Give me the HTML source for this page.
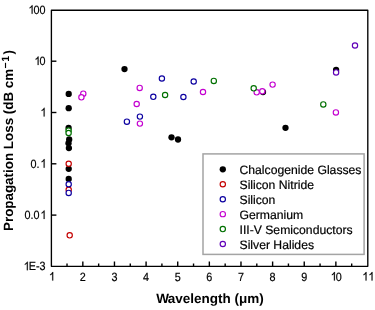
<!DOCTYPE html>
<html><head><meta charset="utf-8"><style>
html,body{margin:0;padding:0;background:#fff;width:375px;height:310px;overflow:hidden}
svg{display:block;will-change:transform;text-rendering:geometricPrecision}
.tl{font-family:"Liberation Sans",sans-serif;font-size:12px;fill:#000;stroke:#000;stroke-width:0.2px}
.lg{font-family:"Liberation Sans",sans-serif;font-size:12.2px;fill:#000;stroke:#000;stroke-width:0.2px}
.ti{font-family:"Liberation Sans",sans-serif;font-size:13px;font-weight:bold;fill:#000}
</style></head><body>
<svg width="375" height="310" viewBox="0 0 375 310">
<rect x="51.4" y="10.2" width="316.40000000000003" height="256.1" fill="none" stroke="#000" stroke-width="1.35" stroke-linejoin="round"/>
<g transform="translate(48.20,280.60) scale(0.9,1)"><path transform="translate(0.00,0) scale(0.012,-0.012)" d="M463 0H375V560L320 515L250 473L188 444V529L278 581L350 645L400 716H463Z" fill="#000" stroke="#000" stroke-width="16"/></g>
<line x1="82.83" y1="266.3" x2="82.83" y2="261.5" stroke="#000" stroke-width="1.4"/>
<g transform="translate(79.83,280.60) scale(0.9,1)"><text x="0.00" y="0" class="tl">2</text></g>
<line x1="114.46" y1="266.3" x2="114.46" y2="261.5" stroke="#000" stroke-width="1.4"/>
<g transform="translate(111.46,280.60) scale(0.9,1)"><text x="0.00" y="0" class="tl">3</text></g>
<line x1="146.09" y1="266.3" x2="146.09" y2="261.5" stroke="#000" stroke-width="1.4"/>
<g transform="translate(143.09,280.60) scale(0.9,1)"><text x="0.00" y="0" class="tl">4</text></g>
<line x1="177.72" y1="266.3" x2="177.72" y2="261.5" stroke="#000" stroke-width="1.4"/>
<g transform="translate(174.72,280.60) scale(0.9,1)"><text x="0.00" y="0" class="tl">5</text></g>
<line x1="209.35" y1="266.3" x2="209.35" y2="261.5" stroke="#000" stroke-width="1.4"/>
<g transform="translate(206.35,280.60) scale(0.9,1)"><text x="0.00" y="0" class="tl">6</text></g>
<line x1="240.98" y1="266.3" x2="240.98" y2="261.5" stroke="#000" stroke-width="1.4"/>
<g transform="translate(237.98,280.60) scale(0.9,1)"><text x="0.00" y="0" class="tl">7</text></g>
<line x1="272.61" y1="266.3" x2="272.61" y2="261.5" stroke="#000" stroke-width="1.4"/>
<g transform="translate(269.61,280.60) scale(0.9,1)"><text x="0.00" y="0" class="tl">8</text></g>
<line x1="304.24" y1="266.3" x2="304.24" y2="261.5" stroke="#000" stroke-width="1.4"/>
<g transform="translate(301.24,280.60) scale(0.9,1)"><text x="0.00" y="0" class="tl">9</text></g>
<line x1="335.87" y1="266.3" x2="335.87" y2="261.5" stroke="#000" stroke-width="1.4"/>
<g transform="translate(329.87,280.60) scale(0.9,1)"><path transform="translate(0.00,0) scale(0.012,-0.012)" d="M463 0H375V560L320 515L250 473L188 444V529L278 581L350 645L400 716H463Z" fill="#000" stroke="#000" stroke-width="16"/><text x="6.67" y="0" class="tl">0</text></g>
<g transform="translate(361.50,280.60) scale(0.9,1)"><path transform="translate(0.00,0) scale(0.012,-0.012)" d="M463 0H375V560L320 515L250 473L188 444V529L278 581L350 645L400 716H463Z" fill="#000" stroke="#000" stroke-width="16"/><path transform="translate(6.67,0) scale(0.012,-0.012)" d="M463 0H375V560L320 515L250 473L188 444V529L278 581L350 645L400 716H463Z" fill="#000" stroke="#000" stroke-width="16"/></g>
<line x1="67.02" y1="266.3" x2="67.02" y2="263.5" stroke="#000" stroke-width="1.4"/>
<line x1="98.65" y1="266.3" x2="98.65" y2="263.5" stroke="#000" stroke-width="1.4"/>
<line x1="130.28" y1="266.3" x2="130.28" y2="263.5" stroke="#000" stroke-width="1.4"/>
<line x1="161.91" y1="266.3" x2="161.91" y2="263.5" stroke="#000" stroke-width="1.4"/>
<line x1="193.54" y1="266.3" x2="193.54" y2="263.5" stroke="#000" stroke-width="1.4"/>
<line x1="225.17" y1="266.3" x2="225.17" y2="263.5" stroke="#000" stroke-width="1.4"/>
<line x1="256.80" y1="266.3" x2="256.80" y2="263.5" stroke="#000" stroke-width="1.4"/>
<line x1="288.43" y1="266.3" x2="288.43" y2="263.5" stroke="#000" stroke-width="1.4"/>
<line x1="320.06" y1="266.3" x2="320.06" y2="263.5" stroke="#000" stroke-width="1.4"/>
<line x1="351.69" y1="266.3" x2="351.69" y2="263.5" stroke="#000" stroke-width="1.4"/>
<g transform="translate(27.59,13.80) scale(0.9,1)"><path transform="translate(0.00,0) scale(0.012,-0.012)" d="M463 0H375V560L320 515L250 473L188 444V529L278 581L350 645L400 716H463Z" fill="#000" stroke="#000" stroke-width="16"/><text x="6.67" y="0" class="tl">00</text></g>
<line x1="51.4" y1="61.20" x2="56.4" y2="61.20" stroke="#000" stroke-width="1.4"/>
<g transform="translate(33.59,65.10) scale(0.9,1)"><path transform="translate(0.00,0) scale(0.012,-0.012)" d="M463 0H375V560L320 515L250 473L188 444V529L278 581L350 645L400 716H463Z" fill="#000" stroke="#000" stroke-width="16"/><text x="6.67" y="0" class="tl">0</text></g>
<line x1="51.4" y1="112.50" x2="56.4" y2="112.50" stroke="#000" stroke-width="1.4"/>
<g transform="translate(39.60,116.40) scale(0.9,1)"><path transform="translate(0.00,0) scale(0.012,-0.012)" d="M463 0H375V560L320 515L250 473L188 444V529L278 581L350 645L400 716H463Z" fill="#000" stroke="#000" stroke-width="16"/></g>
<line x1="51.4" y1="163.80" x2="56.4" y2="163.80" stroke="#000" stroke-width="1.4"/>
<g transform="translate(30.59,167.70) scale(0.9,1)"><text x="0.00" y="0" class="tl">0.</text><path transform="translate(10.01,0) scale(0.012,-0.012)" d="M463 0H375V560L320 515L250 473L188 444V529L278 581L350 645L400 716H463Z" fill="#000" stroke="#000" stroke-width="16"/></g>
<line x1="51.4" y1="215.10" x2="56.4" y2="215.10" stroke="#000" stroke-width="1.4"/>
<g transform="translate(24.58,219.00) scale(0.9,1)"><text x="0.00" y="0" class="tl">0.0</text><path transform="translate(16.68,0) scale(0.012,-0.012)" d="M463 0H375V560L320 515L250 473L188 444V529L278 581L350 645L400 716H463Z" fill="#000" stroke="#000" stroke-width="16"/></g>
<g transform="translate(22.79,270.30) scale(0.9,1)"><path transform="translate(0.00,0) scale(0.012,-0.012)" d="M463 0H375V560L320 515L250 473L188 444V529L278 581L350 645L400 716H463Z" fill="#000" stroke="#000" stroke-width="16"/><text x="6.67" y="0" class="tl">E-3</text></g>
<rect x="203.0" y="153.9" width="161.1" height="100.5" fill="#fff" stroke="#a4a4a4" stroke-width="1.5"/>
<circle cx="222.8" cy="169.35" r="3.15" fill="#000"/>
<text x="239.5" y="173.95" class="lg">Chalcogenide Glasses</text>
<circle cx="222.8" cy="184.28" r="2.65" fill="#fff" stroke="#c40000" stroke-width="1.15"/>
<text x="239.5" y="188.88" class="lg">Silicon Nitride</text>
<circle cx="222.8" cy="199.21" r="2.65" fill="#fff" stroke="#0c00a0" stroke-width="1.15"/>
<text x="239.5" y="203.81" class="lg">Silicon</text>
<circle cx="222.8" cy="214.14" r="2.65" fill="#fff" stroke="#c400d0" stroke-width="1.15"/>
<text x="239.5" y="218.74" class="lg">Germanium</text>
<circle cx="222.8" cy="229.07" r="2.65" fill="#fff" stroke="#007000" stroke-width="1.15"/>
<text x="239.5" y="233.67" class="lg">III-V Semiconductors</text>
<circle cx="222.8" cy="244.00" r="2.65" fill="#fff" stroke="#6000b8" stroke-width="1.15"/>
<text x="239.5" y="248.60" class="lg">Silver Halides</text>
<text x="156.3" y="303.3" class="ti" style="font-size:13.5px">W<tspan dx="-0.9">avelength (μm)</tspan></text>
<text transform="translate(13.3,140.5) rotate(-90)" text-anchor="middle" class="ti" style="font-size:13.4px">Propagation Loss (dB cm<tspan style="font-size:10.5px" dy="-4.3" dx="0.3">−</tspan><tspan style="font-size:10.5px" dx="0.7">1</tspan><tspan dy="4.3" dx="1.4">)</tspan></text>
<circle cx="68.7" cy="93.9" r="3.15" fill="#000"/>
<circle cx="68.7" cy="108.2" r="3.15" fill="#000"/>
<circle cx="68.6" cy="128.0" r="3.15" fill="#000"/>
<circle cx="69.2" cy="139.4" r="3.15" fill="#000"/>
<circle cx="68.5" cy="143.2" r="3.15" fill="#000"/>
<circle cx="68.9" cy="148.1" r="3.15" fill="#000"/>
<circle cx="68.7" cy="168.8" r="3.15" fill="#000"/>
<circle cx="68.7" cy="178.9" r="3.15" fill="#000"/>
<circle cx="124.5" cy="69.1" r="3.15" fill="#000"/>
<circle cx="171.5" cy="137.3" r="3.15" fill="#000"/>
<circle cx="178.0" cy="139.5" r="3.15" fill="#000"/>
<circle cx="263.0" cy="92.1" r="3.15" fill="#000"/>
<circle cx="285.5" cy="127.8" r="3.15" fill="#000"/>
<circle cx="336.1" cy="70.0" r="3.15" fill="#000"/>
<circle cx="68.7" cy="163.7" r="2.65" fill="#fff" stroke="#c40000" stroke-width="1.15"/>
<circle cx="68.7" cy="189.8" r="2.65" fill="#fff" stroke="#c40000" stroke-width="1.15"/>
<circle cx="69.7" cy="235.3" r="2.65" fill="#fff" stroke="#c40000" stroke-width="1.15"/>
<circle cx="68.7" cy="184.2" r="2.65" fill="#fff" stroke="#0c00a0" stroke-width="1.15"/>
<circle cx="68.7" cy="192.9" r="2.65" fill="#fff" stroke="#0c00a0" stroke-width="1.15"/>
<circle cx="126.9" cy="121.7" r="2.65" fill="#fff" stroke="#0c00a0" stroke-width="1.15"/>
<circle cx="139.9" cy="116.6" r="2.65" fill="#fff" stroke="#0c00a0" stroke-width="1.15"/>
<circle cx="153.3" cy="96.8" r="2.65" fill="#fff" stroke="#0c00a0" stroke-width="1.15"/>
<circle cx="161.9" cy="78.5" r="2.65" fill="#fff" stroke="#0c00a0" stroke-width="1.15"/>
<circle cx="183.4" cy="97.0" r="2.65" fill="#fff" stroke="#0c00a0" stroke-width="1.15"/>
<circle cx="193.7" cy="81.5" r="2.65" fill="#fff" stroke="#0c00a0" stroke-width="1.15"/>
<circle cx="83.3" cy="93.7" r="2.65" fill="#fff" stroke="#c400d0" stroke-width="1.15"/>
<circle cx="81.4" cy="97.3" r="2.65" fill="#fff" stroke="#c400d0" stroke-width="1.15"/>
<circle cx="139.7" cy="87.9" r="2.65" fill="#fff" stroke="#c400d0" stroke-width="1.15"/>
<circle cx="136.7" cy="104.0" r="2.65" fill="#fff" stroke="#c400d0" stroke-width="1.15"/>
<circle cx="139.9" cy="123.6" r="2.65" fill="#fff" stroke="#c400d0" stroke-width="1.15"/>
<circle cx="203.0" cy="92.0" r="2.65" fill="#fff" stroke="#c400d0" stroke-width="1.15"/>
<circle cx="256.7" cy="92.3" r="2.65" fill="#fff" stroke="#c400d0" stroke-width="1.15"/>
<circle cx="262.3" cy="91.3" r="2.65" fill="#fff" stroke="#c400d0" stroke-width="1.15"/>
<circle cx="272.6" cy="84.6" r="2.65" fill="#fff" stroke="#c400d0" stroke-width="1.15"/>
<circle cx="335.9" cy="112.4" r="2.65" fill="#fff" stroke="#c400d0" stroke-width="1.15"/>
<circle cx="68.6" cy="130.5" r="2.65" fill="#fff" stroke="#007000" stroke-width="1.15"/>
<circle cx="68.6" cy="133.0" r="2.65" fill="#fff" stroke="#007000" stroke-width="1.15"/>
<circle cx="165.1" cy="95.0" r="2.65" fill="#fff" stroke="#007000" stroke-width="1.15"/>
<circle cx="213.8" cy="80.9" r="2.65" fill="#fff" stroke="#007000" stroke-width="1.15"/>
<circle cx="253.7" cy="88.3" r="2.65" fill="#fff" stroke="#007000" stroke-width="1.15"/>
<circle cx="323.3" cy="104.4" r="2.65" fill="#fff" stroke="#007000" stroke-width="1.15"/>
<circle cx="336.1" cy="72.4" r="2.65" fill="#fff" stroke="#6000b8" stroke-width="1.15"/>
<circle cx="355.0" cy="45.5" r="2.65" fill="#fff" stroke="#6000b8" stroke-width="1.15"/>
</svg>
</body></html>
